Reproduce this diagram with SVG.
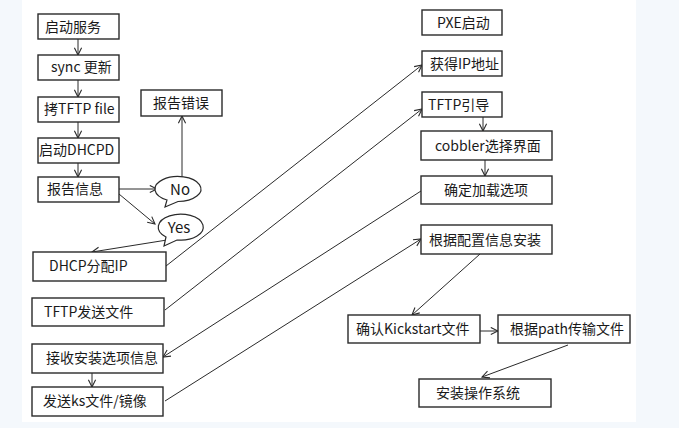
<svg xmlns="http://www.w3.org/2000/svg" width="679" height="428" viewBox="0 0 679 428">
<defs>
<style>
.box{fill:#fff;stroke:#2a2a2a;stroke-width:1.4}
.bub{fill:#fff;stroke:#2a2a2a;stroke-width:1.2}
.t{font-family:"Noto Sans CJK SC","Microsoft YaHei",sans-serif;font-size:14px;fill:#1a1a1a}
.c{text-anchor:middle}
.ln{fill:none;stroke:#2a2a2a;stroke-width:1;marker-end:url(#ah)}
</style>
<marker id="ah" viewBox="0 0 10 10" refX="9" refY="5" markerWidth="9" markerHeight="9" orient="auto" markerUnits="userSpaceOnUse">
<path d="M1,1 L9,5 L1,9" fill="none" stroke="#2a2a2a" stroke-width="1.2"/>
</marker>
</defs>
<rect x="0" y="0" width="679" height="428" fill="#f4f8fc"/>
<rect x="22" y="0" width="614" height="422" fill="#fff"/>

<g id="connectors">
<line class="ln" x1="78" y1="39" x2="78" y2="55"/>
<line class="ln" x1="78" y1="80" x2="78" y2="97"/>
<line class="ln" x1="78" y1="122" x2="78" y2="138"/>
<line class="ln" x1="78" y1="163" x2="78" y2="177"/>
<line class="ln" x1="119" y1="189" x2="157" y2="189"/>
<line class="ln" x1="119" y1="194" x2="155" y2="224"/>
<line class="ln" x1="182" y1="177" x2="182" y2="116"/>
<line class="ln" x1="167" y1="240" x2="92" y2="252"/>
<line class="ln" x1="92" y1="373" x2="92" y2="387"/>
<line class="ln" x1="166" y1="266" x2="422" y2="65"/>
<line class="ln" x1="165" y1="310" x2="422" y2="109"/>
<line class="ln" x1="421" y1="191" x2="163" y2="357"/>
<line class="ln" x1="165" y1="401" x2="421" y2="239"/>
<line class="ln" x1="483" y1="117" x2="483" y2="131"/>
<line class="ln" x1="485" y1="160" x2="485" y2="176"/>
<line class="ln" x1="480" y1="254" x2="412" y2="315"/>
<line class="ln" x1="478" y1="331" x2="498" y2="331"/>
<line class="ln" x1="568" y1="345" x2="482" y2="377"/>
</g>

<g id="n-qidong"><rect class="box" x="38" y="14" width="81" height="25"/><text class="t" x="45" y="32">启动服务</text></g>
<g id="n-sync"><rect class="box" x="38" y="55" width="81" height="25"/><text class="t" x="51" y="72">sync 更新</text></g>
<g id="n-tftpfile"><rect class="box" x="38" y="97" width="81" height="25"/><text class="t" x="44" y="114">拷TFTP file</text></g>
<g id="n-dhcpd"><rect class="box" x="38" y="138" width="81" height="25"/><text class="t" x="39" y="155">启动DHCPD</text></g>
<g id="n-report"><rect class="box" x="38" y="177" width="81" height="25"/><text class="t" x="47" y="194">报告信息</text></g>
<g id="n-error"><rect class="box" x="141" y="90" width="81" height="26"/><text class="t" x="153" y="108">报告错误</text></g>
<g id="n-no"><path class="bub" d="M167,200 A23,12.5 0 1 1 178,201.5 L165,207 Z"/><text class="t c" x="180" y="195" style="font-size:15px">No</text></g>
<g id="n-yes"><path class="bub" d="M166,237 A22.5,13 0 1 1 177,240 L164,246 Z"/><text class="t c" x="179" y="233" style="font-size:15px">Yes</text></g>
<g id="n-dhcpip"><rect class="box" x="33" y="252" width="133" height="29"/><text class="t" x="49" y="271">DHCP分配IP</text></g>
<g id="n-tftpsend"><rect class="box" x="32" y="298" width="132" height="28"/><text class="t" x="44" y="317">TFTP发送文件</text></g>
<g id="n-recv"><rect class="box" x="32" y="344" width="131" height="29"/><text class="t" x="46" y="363">接收安装选项信息</text></g>
<g id="n-sendks"><rect class="box" x="32" y="387" width="131" height="29"/><text class="t" x="43" y="406">发送ks文件/镜像</text></g>

<g id="n-pxe"><rect class="box" x="422" y="10" width="80" height="25"/><text class="t" x="437" y="28">PXE启动</text></g>
<g id="n-getip"><rect class="box" x="422" y="51" width="80" height="25"/><text class="t" x="430" y="69">获得IP地址</text></g>
<g id="n-tftpboot"><rect class="box" x="422" y="92" width="80" height="25"/><text class="t" x="428" y="110">TFTP引导</text></g>
<g id="n-cobbler"><rect class="box" x="421" y="131" width="131" height="29"/><text class="t" x="435" y="151">cobbler选择界面</text></g>
<g id="n-confirm"><rect class="box" x="421" y="176" width="131" height="28"/><text class="t" x="444" y="195">确定加载选项</text></g>
<g id="n-install-cfg"><rect class="box" x="421" y="225" width="131" height="29"/><text class="t" x="429" y="245">根据配置信息安装</text></g>
<g id="n-kickstart"><rect class="box" x="348" y="315" width="132" height="28"/><text class="t" x="356" y="334">确认Kickstart文件</text></g>
<g id="n-path"><rect class="box" x="498" y="315" width="132" height="28"/><text class="t" x="510" y="334">根据path传输文件</text></g>
<g id="n-os"><rect class="box" x="419" y="379" width="132" height="28"/><text class="t" x="436" y="398">安装操作系统</text></g>
</svg>
